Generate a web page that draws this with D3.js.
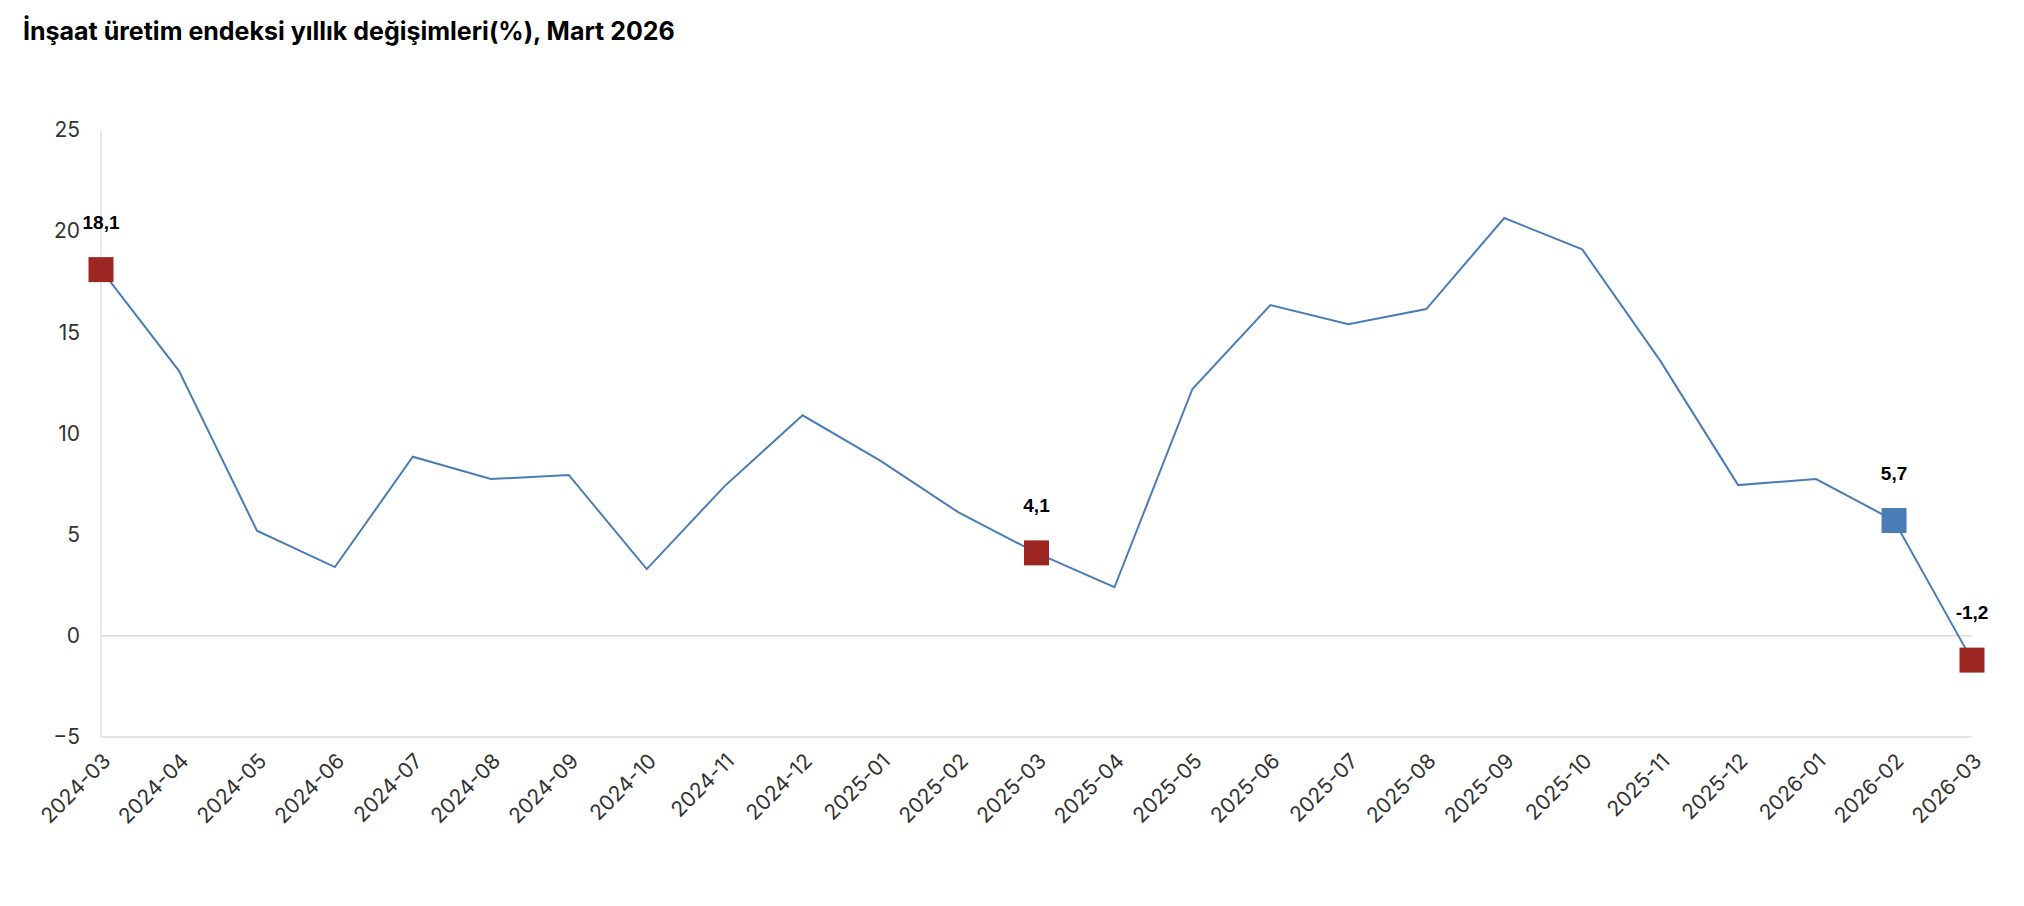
<!DOCTYPE html>
<html><head><meta charset="utf-8">
<script src="https://cdn.jsdelivr.net/npm/d3@7"></script>
<style>body{margin:0;background:#fff}</style></head>
<body><svg id="c" width="2024" height="906"></svg>
<script>
const months = ["2024-03","2024-04","2024-05","2024-06","2024-07","2024-08","2024-09","2024-10","2024-11","2024-12","2025-01","2025-02","2025-03","2025-04","2025-05","2025-06","2025-07","2025-08","2025-09","2025-10","2025-11","2025-12","2026-01","2026-02","2026-03"];
const values = [18.1,13.1,5.2,3.4,8.85,7.75,7.95,3.3,7.4,10.9,8.65,6.1,4.1,2.4,12.2,16.35,15.4,16.15,20.65,19.1,13.6,7.45,7.75,5.7,-1.2];
const highlighted = ["2024-03","2025-03","2026-02","2026-03"];
const highlightColors = ["#9e2622","#9e2622","#4a7db5","#9e2622"];
const yTicks = [-5,0,5,10,15,20,25];

const svg = d3.select("#c");
const x = d3.scalePoint().domain(months).range([101,1972]);
const y = d3.scaleLinear().domain([-5,25]).range([737,130]);

svg.append("text").attr("x",23).attr("y",40).attr("font-family","Inter, Roboto, sans-serif")
  .attr("font-weight","700").attr("font-size",25).attr("fill","#000")
  .text("İnşaat üretim endeksi yıllık değişimleri(%), Mart 2026");

svg.append("line").attr("x1",101).attr("x2",101).attr("y1",130).attr("y2",737).attr("stroke","#dde3ec").attr("stroke-width",1.5);
[0,-5].forEach(v=>svg.append("line").attr("x1",101).attr("x2",1972).attr("y1",y(v)).attr("y2",y(v)).attr("stroke","#dcdcdc").attr("stroke-width",1.5));

const ya = svg.append("g").attr("transform","translate(80,0)")
  .call(d3.axisLeft(y).tickValues(yTicks).tickSize(0).tickPadding(0));
ya.select(".domain").remove();
ya.selectAll("text").attr("font-family","Inter, Roboto, sans-serif").attr("font-size",21).attr("fill","#333");

const xa = svg.append("g").attr("transform","translate(0,752)")
  .call(d3.axisBottom(x).tickSize(0).tickPadding(0));
xa.select(".domain").remove();
xa.selectAll("text").attr("font-family","Inter, Roboto, sans-serif").attr("font-size",21).attr("fill","#333")
  .attr("text-anchor","end").attr("dy","0.7em").attr("transform","rotate(-45)");

svg.append("path").datum(values).attr("fill","none").attr("stroke","#4a7db5").attr("stroke-width",2)
  .attr("d",d3.line().x((d,i)=>x(months[i])).y(d=>y(d)));

highlighted.forEach((m,k)=>{
  const v = values[months.indexOf(m)];
  const s = 25;
  svg.append("rect").attr("x",x(m)-s/2).attr("y",y(v)-s/2).attr("width",s).attr("height",s).attr("fill",highlightColors[k]);
  svg.append("text").attr("x",x(m)).attr("y",y(v)-41).attr("text-anchor","middle")
    .attr("font-family","Liberation Sans, Arial, sans-serif").attr("font-weight","700").attr("font-size",19)
    .text(String(v).replace(".",","));
});
</script></body></html>
